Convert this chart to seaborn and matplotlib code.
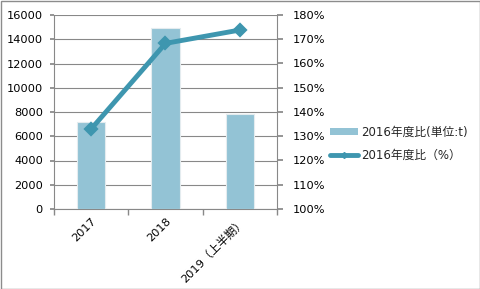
import matplotlib
matplotlib.use("Agg")
import matplotlib.pyplot as plt
import seaborn as sns
import pandas as pd
from matplotlib.lines import Line2D
from matplotlib.patches import Patch

categories = ["2017", "2018", "2019（上半期）"]
tonnage = [7150, 14930, 7830]
ratio_pct = [133.0, 168.3, 173.8]
bar_label = "2016年度比(単位:t)"
line_label = "2016年度比（%）"
left_ticks = [0, 2000, 4000, 6000, 8000, 10000, 12000, 14000, 16000]
right_ticks = [100, 110, 120, 130, 140, 150, 160, 170, 180]

sns.set_theme(style="white")
plt.rcParams['font.family'] = ['DejaVu Sans', 'Noto Sans CJK JP']

df = pd.DataFrame({"cat": categories, "t": tonnage, "pct": ratio_pct})

bar_color = "#93C3D5"
line_color = "#3E96AF"
grid_color = "#888888"
fs = 8.2

fig = plt.figure(figsize=(4.81, 2.89), dpi=100)
ax = fig.add_axes([54/481, 1-209/289, (277-54)/481, (209-15)/289])

sns.barplot(data=df, x="cat", y="t", color=bar_color, width=0.38,
            saturation=1, ax=ax, edgecolor="#E4ECEF", linewidth=0.8)
for p in ax.patches:
    p.set_zorder(3)
ax.set_ylim(0, 16000)
ax.set_yticks(left_ticks)
ax.set_yticklabels([str(v) for v in left_ticks], fontsize=fs, color="black")
ax.yaxis.grid(True, color=grid_color, linewidth=0.8, zorder=0)
ax.set_axisbelow(True)
ax.set_xlabel("")
ax.set_ylabel("")

ax2 = ax.twinx()
sns.pointplot(data=df, x="cat", y="pct", color=line_color, markers="D",
              ax=ax2, linewidth=3.5, markersize=5, zorder=5)
ax2.set_ylim(100, 180)
ax2.set_yticks(right_ticks)
ax2.set_yticklabels([f"{v}%" for v in right_ticks], fontsize=fs, color="black")
ax2.set_ylabel("")
ax2.set_xlabel("")

for a in (ax, ax2):
    a.set_xlim(-0.5, 2.5)
    for s in a.spines.values():
        s.set_color(grid_color)
        s.set_linewidth(0.8)
    a.spines['top'].set_visible(False)

ax.spines['right'].set_visible(False)
ax2.spines['left'].set_visible(False)
ax2.spines['bottom'].set_visible(False)

ax.tick_params(axis='y', which='major', length=3, color=grid_color, left=True,
               direction='out', pad=5)
ax2.tick_params(axis='y', which='major', length=4, color=grid_color, right=True,
                direction='out', pad=7)

ax.set_xticks([0, 1, 2])
ax.set_xticklabels(categories, rotation=45, ha='right', rotation_mode='anchor',
                   fontsize=fs, color="black")
ax.set_xticks([-0.5, 0.5, 1.5, 2.5], minor=True)
ax.tick_params(axis='x', which='major', length=0, pad=5)
ax.tick_params(axis='x', which='minor', length=4, color=grid_color, bottom=True,
               direction='out')

handles = [
    Patch(facecolor=bar_color, edgecolor='none'),
    Line2D([0], [0], color=line_color, linewidth=3.5, marker='D', markersize=3),
]
fig.legend(handles, [bar_label, line_label], loc='center left',
           bbox_to_anchor=(319/481, 1-144/289), frameon=False, fontsize=8.5,
           handlelength=2.4, handleheight=0.6, labelspacing=0.9, handletextpad=0.3)

border = plt.Rectangle((0.5/481, 0.5/289), 1-1.5/481, 1-1.5/289, transform=fig.transFigure,
                       fill=False, edgecolor="#8C8C8C", linewidth=1)
fig.patches.append(border)

fig.savefig("out.png", dpi=100)
